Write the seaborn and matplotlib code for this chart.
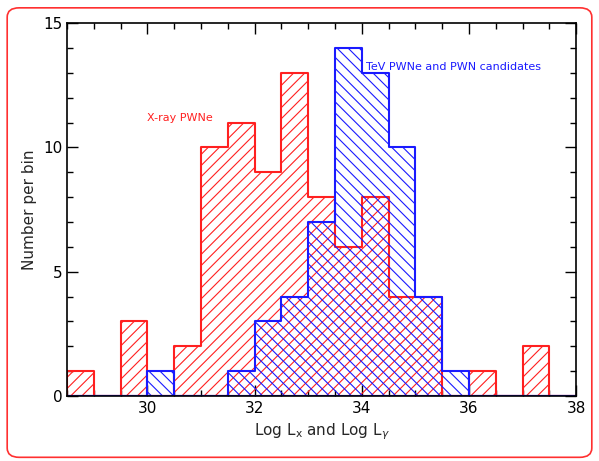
import numpy as np
import pandas as pd
import matplotlib
matplotlib.use("Agg")
import matplotlib.pyplot as plt
import seaborn as sns
from matplotlib.patches import FancyBboxPatch

# Bin edges (width 0.5) and counts per bin
bin_edges = [28.5, 29.0, 29.5, 30.0, 30.5, 31.0, 31.5, 32.0, 32.5, 33.0, 33.5,
             34.0, 34.5, 35.0, 35.5, 36.0, 36.5, 37.0, 37.5, 38.0]
xray_counts = [1, 0, 3, 0, 2, 10, 11, 9, 13, 8, 6, 8, 4, 4, 0, 1, 0, 2, 0]
tev_counts = [0, 0, 0, 1, 0, 0, 1, 3, 4, 7, 14, 13, 10, 4, 1, 0, 0, 0, 0]
xray_label = "X-ray PWNe"
tev_label = "TeV PWNe and PWN candidates"
x_ticks = [30, 32, 34, 36, 38]
y_ticks = [0, 5, 10, 15]

centers = [(a + b) / 2 for a, b in zip(bin_edges[:-1], bin_edges[1:])]
df = pd.DataFrame({"x": centers, "xray": xray_counts, "tev": tev_counts})

sns.set_style("white")
plt.rcParams["font.family"] = ["DejaVu Sans"]
plt.rcParams["hatch.linewidth"] = 0.8

fig = plt.figure(figsize=(5.99, 4.61), dpi=100)
fig.patch.set_facecolor("white")
ax = fig.add_axes([0.112, 0.141, 0.850, 0.809])

for col, color, hatch in [("xray", "#ff2020", "///"), ("tev", "#1a1aff", "\\\\\\")]:
    n_before = len(ax.collections)
    sns.histplot(data=df, x="x", weights=col, bins=bin_edges, element="step",
                 fill=True, color=color, ax=ax, linewidth=1.5)
    for c in ax.collections[n_before:]:
        c.set_facecolor("none")
        c.set_edgecolor(color)
        c.set_hatch(hatch)
        c.set_linewidth(1.5)
        c.set_alpha(1)

ax.set_xlim(28.5, 38)
ax.set_ylim(0, 15)
ax.set_xticks(x_ticks)
ax.set_yticks(y_ticks)
ax.set_xticks(np.arange(28.5, 38.01, 0.5), minor=True)
ax.set_yticks(np.arange(0, 15.01, 1), minor=True)
ax.tick_params(which="both", direction="in", top=True, right=True, bottom=True, left=True,
               labelsize=11, colors="black")
ax.tick_params(which="major", length=8, width=1)
ax.tick_params(which="minor", length=4, width=1)
for s in ax.spines.values():
    s.set_linewidth(1.2)
    s.set_color("black")

ax.set_xlabel(r"Log L$_\mathrm{x}$ and Log L$_\gamma$", fontsize=11)
ax.set_ylabel("Number per bin", fontsize=11)

ax.text(30.0, 11.2, xray_label, color="#ff2020", fontsize=8, va="center", ha="left")
ax.text(34.07, 13.25, tev_label, color="#1a1aff", fontsize=8, va="center", ha="left")

border = FancyBboxPatch((0.012, 0.008), 0.976, 0.975, boxstyle="round,pad=0,rounding_size=0.02",
                        transform=fig.transFigure, facecolor="none", edgecolor="#ff3030",
                        linewidth=1.2)
fig.patches.append(border)

fig.savefig("out.png", dpi=100)
